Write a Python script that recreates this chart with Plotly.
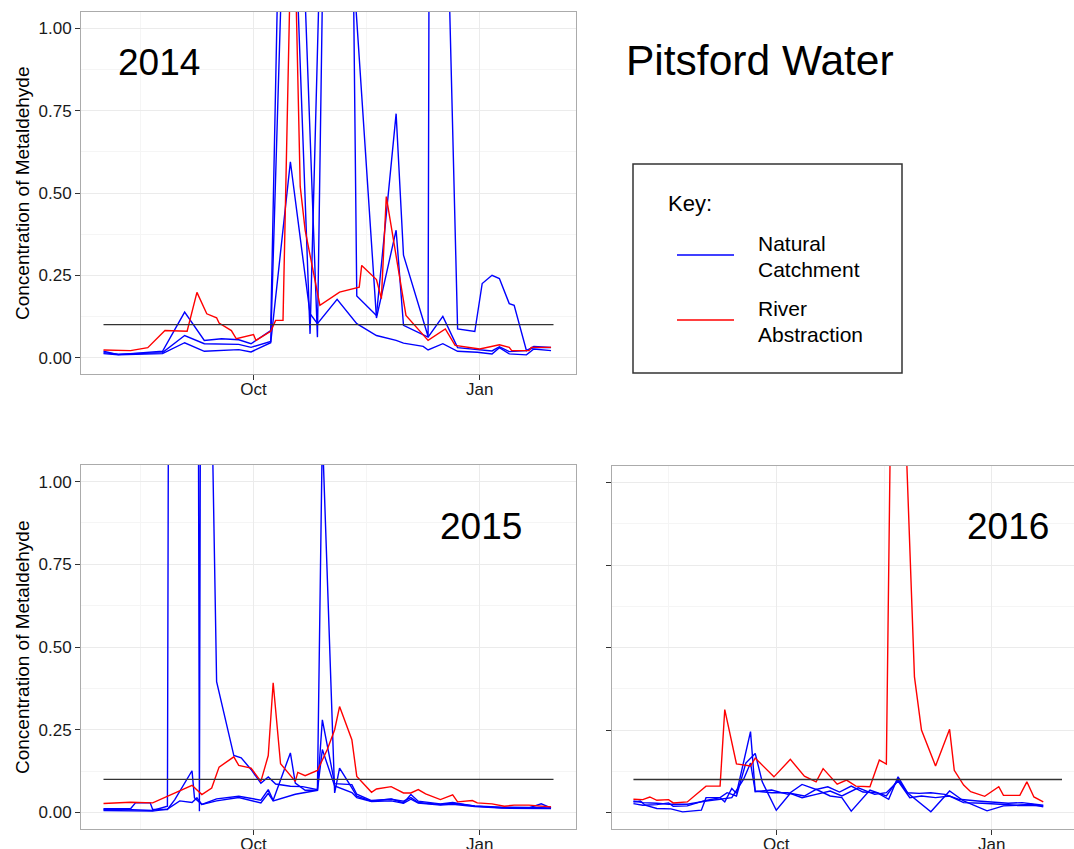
import pandas as pd
import plotly.graph_objects as go

W, H = 1074, 849
FONT = "Liberation Sans, Arial, sans-serif"
BLUE, RED = "#0000FF", "#FF0000"

# ---------------- 2014 ----------------
river_2014_dates = ["2014-08-01", "2014-08-12", "2014-08-19", "2014-08-26", "2014-09-04", "2014-09-08",
                    "2014-09-12", "2014-09-16", "2014-09-17", "2014-09-22", "2014-09-24", "2014-10-01",
                    "2014-10-02", "2014-10-08", "2014-10-10", "2014-10-13", "2014-10-17", "2014-10-20",
                    "2014-10-22", "2014-10-28", "2014-11-05", "2014-11-13", "2014-11-14", "2014-11-20",
                    "2014-11-22", "2014-11-24", "2014-12-02", "2014-12-11", "2014-12-18", "2014-12-22",
                    "2015-01-01", "2015-01-09", "2015-01-13", "2015-01-14", "2015-01-21", "2015-01-22",
                    "2015-01-30"]
river_2014 = [0.023, 0.021, 0.030, 0.082, 0.080, 0.198, 0.133, 0.121, 0.105, 0.082, 0.057, 0.070,
              0.052, 0.080, 0.113, 0.113, 1.54, 0.52, 0.387, 0.159, 0.199, 0.214, 0.280, 0.237,
              0.179, 0.489, 0.128, 0.052, 0.087, 0.037, 0.026, 0.039, 0.031, 0.021, 0.021, 0.031,
              0.031]

nc1_2014_dates = ["2014-08-01", "2014-08-07", "2014-08-25", "2014-09-03", "2014-09-11", "2014-09-25",
                  "2014-09-30", "2014-10-08", "2014-10-16", "2014-10-24", "2014-10-27", "2014-11-04",
                  "2014-11-12", "2014-11-20", "2014-11-28", "2014-12-01", "2014-12-09", "2014-12-11",
                  "2014-12-17", "2014-12-23", "2014-12-31", "2015-01-06", "2015-01-09", "2015-01-13",
                  "2015-01-20", "2015-01-23", "2015-01-30"]
nc1_2014 = [0.012, 0.008, 0.012, 0.045, 0.019, 0.024, 0.017, 0.045, 0.595, 0.133, 0.103, 0.177,
            0.103, 0.067, 0.052, 0.044, 0.034, 0.023, 0.042, 0.019, 0.016, 0.011, 0.030, 0.011,
            0.008, 0.026, 0.021]

nc2_2014_dates = ["2014-08-01", "2014-08-07", "2014-08-25", "2014-09-03", "2014-09-11", "2014-09-25",
                  "2014-09-30", "2014-10-08", "2014-10-13", "2014-10-20", "2014-10-27", "2014-10-30",
                  "2014-11-10", "2014-11-20", "2014-11-28", "2014-12-01", "2014-12-11", "2014-12-17",
                  "2014-12-23", "2014-12-31", "2015-01-06", "2015-01-09", "2015-01-13", "2015-01-20",
                  "2015-01-23", "2015-01-30"]
nc2_2014 = [0.015, 0.010, 0.015, 0.067, 0.042, 0.040, 0.031, 0.049, 1.30, 1.50, 0.062, 1.60,
            1.25, 0.120, 0.387, 0.098, 0.062, 0.125, 0.030, 0.025, 0.020, 0.033, 0.018, 0.021,
            0.030, 0.030]

nc3_2014_dates = ["2014-08-01", "2014-08-07", "2014-08-12", "2014-08-25", "2014-09-03", "2014-09-11",
                  "2014-09-18", "2014-09-25", "2014-09-30", "2014-10-08", "2014-10-11", "2014-10-18",
                  "2014-10-24", "2014-10-29", "2014-11-10", "2014-11-12", "2014-11-20", "2014-11-28",
                  "2014-12-01", "2014-12-09", "2014-12-11", "2014-12-12", "2014-12-18", "2014-12-23",
                  "2014-12-30", "2015-01-02", "2015-01-06", "2015-01-09", "2015-01-13", "2015-01-15",
                  "2015-01-20", "2015-01-23", "2015-01-30"]
nc3_2014 = [0.019, 0.009, 0.012, 0.019, 0.138, 0.052, 0.057, 0.054, 0.042, 0.082, 1.20, 1.30,
            0.072, 1.50, 1.60, 0.187, 0.128, 0.741, 0.311, 0.113, 0.064, 3.00, 1.60, 0.087,
            0.079, 0.225, 0.250, 0.240, 0.164, 0.159, 0.021, 0.034, 0.031]

# ---------------- 2015 ----------------
river_2015_dates = ["2015-08-01", "2015-08-12", "2015-08-21", "2015-09-06", "2015-09-10", "2015-09-14",
                    "2015-09-17", "2015-09-23", "2015-09-25", "2015-09-30", "2015-10-04", "2015-10-07",
                    "2015-10-09", "2015-10-12", "2015-10-18", "2015-10-19", "2015-10-22", "2015-10-27",
                    "2015-10-31", "2015-11-03", "2015-11-05", "2015-11-10", "2015-11-12", "2015-11-18",
                    "2015-11-20", "2015-11-26", "2015-12-01", "2015-12-04", "2015-12-07", "2015-12-10",
                    "2015-12-16", "2015-12-21", "2015-12-23", "2015-12-29", "2015-12-31", "2016-01-06",
                    "2016-01-11", "2016-01-15", "2016-01-21", "2016-01-30"]
river_2015 = [0.027, 0.031, 0.029, 0.082, 0.054, 0.074, 0.137, 0.168, 0.142, 0.134, 0.094, 0.172,
              0.392, 0.147, 0.094, 0.121, 0.111, 0.127, 0.190, 0.250, 0.320, 0.220, 0.109, 0.061,
              0.071, 0.078, 0.059, 0.059, 0.069, 0.056, 0.039, 0.053, 0.032, 0.036, 0.029, 0.026,
              0.019, 0.022, 0.022, 0.017]

nc1_2015_dates = ["2015-08-01", "2015-08-10", "2015-08-21", "2015-08-27", "2015-08-28", "2015-09-08",
                  "2015-09-09", "2015-09-10", "2015-09-14", "2015-09-16", "2015-09-23", "2015-09-26",
                  "2015-09-30", "2015-10-04", "2015-10-07", "2015-10-10", "2015-10-16", "2015-10-21",
                  "2015-10-27", "2015-10-29", "2015-11-03", "2015-11-05", "2015-11-10", "2015-11-12",
                  "2015-11-18", "2015-11-26", "2015-12-01", "2015-12-04", "2015-12-07", "2015-12-16",
                  "2015-12-21", "2015-12-30", "2016-01-10", "2016-01-21", "2016-01-26", "2016-01-30"]
nc1_2015 = [0.009, 0.009, 0.006, 0.019, 3.00, 3.00, 0.004, 3.00, 1.26, 0.395, 0.172, 0.165,
            0.130, 0.088, 0.107, 0.086, 0.079, 0.078, 0.069, 1.15, 0.059, 0.134, 0.074, 0.049,
            0.034, 0.041, 0.029, 0.054, 0.034, 0.026, 0.030, 0.019, 0.014, 0.014, 0.026, 0.014]

nc2_2015_dates = ["2015-08-01", "2015-08-12", "2015-08-14", "2015-08-20", "2015-08-21", "2015-08-27",
                  "2015-08-30", "2015-09-06", "2015-09-07", "2015-09-10", "2015-09-16", "2015-09-25",
                  "2015-10-04", "2015-10-07", "2015-10-09", "2015-10-16", "2015-10-18", "2015-10-22",
                  "2015-10-27", "2015-10-29", "2015-11-03", "2015-11-10", "2015-11-12", "2015-11-18",
                  "2015-11-26", "2015-12-01", "2015-12-04", "2015-12-07", "2015-12-16", "2015-12-21",
                  "2015-12-30", "2016-01-10", "2016-01-21", "2016-01-30"]
nc2_2015 = [0.011, 0.011, 0.029, 0.029, 0.009, 0.009, 0.039, 0.126, 0.044, 0.024, 0.041, 0.049,
            0.037, 0.069, 0.037, 0.180, 0.089, 0.067, 0.067, 0.280, 0.087, 0.084, 0.055, 0.036,
            0.040, 0.034, 0.045, 0.030, 0.024, 0.028, 0.020, 0.016, 0.015, 0.016]

nc3_2015_dates = ["2015-08-01", "2015-08-12", "2015-08-21", "2015-08-27", "2015-09-01", "2015-09-06",
                  "2015-09-08", "2015-09-10", "2015-09-16", "2015-09-25", "2015-10-04", "2015-10-07",
                  "2015-10-09", "2015-10-18", "2015-10-22", "2015-10-27", "2015-10-29", "2015-11-03",
                  "2015-11-10", "2015-11-12", "2015-11-18", "2015-11-26", "2015-12-01", "2015-12-04",
                  "2015-12-07", "2015-12-16", "2015-12-21", "2015-12-30", "2016-01-10", "2016-01-21",
                  "2016-01-30"]
nc3_2015 = [0.006, 0.006, 0.004, 0.010, 0.035, 0.030, 0.044, 0.024, 0.035, 0.045, 0.029, 0.058,
            0.035, 0.055, 0.060, 0.067, 0.190, 0.080, 0.060, 0.045, 0.033, 0.035, 0.028, 0.040,
            0.028, 0.022, 0.025, 0.018, 0.013, 0.013, 0.012]

# ---------------- 2016 ----------------
river_2016_dates = ["2016-08-01", "2016-08-05", "2016-08-08", "2016-08-11", "2016-08-16", "2016-08-18",
                    "2016-08-24", "2016-09-01", "2016-09-07", "2016-09-09", "2016-09-14", "2016-09-20",
                    "2016-09-22", "2016-09-29", "2016-09-30", "2016-10-07", "2016-10-13", "2016-10-18",
                    "2016-10-21", "2016-10-27", "2016-10-31", "2016-11-04", "2016-11-10", "2016-11-14",
                    "2016-11-17", "2016-11-20", "2016-11-22", "2016-11-24", "2016-11-29", "2016-12-02",
                    "2016-12-08", "2016-12-14", "2016-12-16", "2016-12-20", "2016-12-23", "2016-12-29",
                    "2017-01-04", "2017-01-06", "2017-01-13", "2017-01-16", "2017-01-19", "2017-01-23"]
river_2016 = [0.040, 0.039, 0.047, 0.037, 0.039, 0.029, 0.032, 0.080, 0.080, 0.312, 0.147, 0.141,
              0.165, 0.113, 0.108, 0.161, 0.110, 0.093, 0.133, 0.086, 0.098, 0.080, 0.078, 0.159,
              0.147, 1.90, 2.40, 1.40, 0.411, 0.250, 0.141, 0.252, 0.128, 0.083, 0.063, 0.049,
              0.078, 0.052, 0.052, 0.093, 0.047, 0.032]

nc1_2016_dates = ["2016-08-01", "2016-08-04", "2016-08-06", "2016-08-11", "2016-08-17", "2016-08-22",
                  "2016-08-30", "2016-09-01", "2016-09-07", "2016-09-09", "2016-09-12", "2016-09-14",
                  "2016-09-20", "2016-09-22", "2016-09-29", "2016-10-06", "2016-10-12", "2016-10-18",
                  "2016-10-23", "2016-10-28", "2016-11-02", "2016-11-07", "2016-11-13", "2016-11-18",
                  "2016-11-22", "2016-11-26", "2016-12-01", "2016-12-06", "2016-12-12", "2016-12-18",
                  "2016-12-26", "2017-01-02", "2017-01-08", "2017-01-14", "2017-01-23"]
nc1_2016 = [0.032, 0.035, 0.022, 0.012, 0.011, 0.002, 0.007, 0.045, 0.045, 0.032, 0.073, 0.058,
            0.245, 0.063, 0.068, 0.055, 0.085, 0.070, 0.078, 0.062, 0.080, 0.062, 0.060, 0.040,
            0.108, 0.060, 0.058, 0.060, 0.055, 0.040, 0.035, 0.032, 0.028, 0.030, 0.022]

nc2_2016_dates = ["2016-08-01", "2016-08-05", "2016-08-11", "2016-08-16", "2016-08-18", "2016-08-24",
                  "2016-08-31", "2016-09-07", "2016-09-10", "2016-09-14", "2016-09-18", "2016-09-22",
                  "2016-09-25", "2016-10-01", "2016-10-07", "2016-10-13", "2016-10-18", "2016-10-24",
                  "2016-10-29", "2016-11-02", "2016-11-10", "2016-11-17", "2016-11-22", "2016-11-26",
                  "2016-12-06", "2016-12-14", "2016-12-20", "2016-12-30", "2017-01-06", "2017-01-14",
                  "2017-01-23"]
nc2_2016 = [0.027, 0.022, 0.024, 0.029, 0.019, 0.020, 0.035, 0.045, 0.060, 0.050, 0.150, 0.179,
            0.093, 0.007, 0.058, 0.050, 0.070, 0.050, 0.045, 0.004, 0.068, 0.050, 0.100, 0.060,
            0.002, 0.065, 0.035, 0.005, 0.020, 0.022, 0.020]

nc3_2016_dates = ["2016-08-01", "2016-08-05", "2016-08-11", "2016-08-16", "2016-08-24", "2016-09-01",
                  "2016-09-07", "2016-09-12", "2016-09-17", "2016-09-20", "2016-09-22", "2016-09-29",
                  "2016-10-06", "2016-10-12", "2016-10-18", "2016-10-24", "2016-10-29", "2016-11-05",
                  "2016-11-12", "2016-11-17", "2016-11-22", "2016-11-27", "2016-12-02", "2016-12-08",
                  "2016-12-14", "2016-12-20", "2016-12-28", "2017-01-04", "2017-01-12", "2017-01-18",
                  "2017-01-23"]
nc3_2016 = [0.035, 0.030, 0.028, 0.025, 0.025, 0.035, 0.040, 0.045, 0.100, 0.150, 0.065, 0.060,
            0.060, 0.045, 0.055, 0.065, 0.050, 0.075, 0.055, 0.060, 0.095, 0.045, 0.050, 0.045,
            0.050, 0.030, 0.028, 0.026, 0.022, 0.025, 0.017]

# guideline level drawn across each season
limit_value = 0.1
season_start = {"2014": "2014-08-01", "2015": "2015-08-01", "2016": "2016-08-01"}
season_end = {"2014": "2015-01-31", "2015": "2016-01-31", "2016": "2017-01-31"}

y_ticks = [0.0, 0.25, 0.5, 0.75, 1.0]
y_minor = [0.125, 0.375, 0.625, 0.875]
y_range = [-0.05, 1.05]

panels = {
    "2014": dict(river=(river_2014_dates, river_2014),
                 nc=[(nc1_2014_dates, nc1_2014), (nc2_2014_dates, nc2_2014), (nc3_2014_dates, nc3_2014)]),
    "2015": dict(river=(river_2015_dates, river_2015),
                 nc=[(nc1_2015_dates, nc1_2015), (nc2_2015_dates, nc2_2015), (nc3_2015_dates, nc3_2015)]),
    "2016": dict(river=(river_2016_dates, river_2016),
                 nc=[(nc1_2016_dates, nc1_2016), (nc2_2016_dates, nc2_2016), (nc3_2016_dates, nc3_2016)]),
}

# panel boxes in pixels: (left, top, right, bottom)
boxes = {"2014": (81, 12, 576, 374), "2015": (81, 465, 576, 829), "2016": (612, 466, 1074, 829)}
# share of the full date span that is visible in each panel (last panel runs off the page)
visible = {"2014": 1.0, "2015": 1.0, "2016": 0.98}


def px(x):
    return x / W


def py(y):
    return 1 - y / H


fig = go.Figure()
axis_ids = {"2014": "", "2015": "2", "2016": "3"}

for year, d in panels.items():
    sid = axis_ids[year]
    xa, ya = "x" + sid, "y" + sid
    for dates, vals in d["nc"]:
        fig.add_trace(go.Scatter(x=pd.to_datetime(dates), y=vals, mode="lines",
                                 line=dict(color=BLUE, width=1.4), xaxis=xa, yaxis=ya,
                                 showlegend=False, hoverinfo="skip"))
    rd, rv = d["river"]
    fig.add_trace(go.Scatter(x=pd.to_datetime(rd), y=rv, mode="lines",
                             line=dict(color=RED, width=1.4), xaxis=xa, yaxis=ya,
                             showlegend=False, hoverinfo="skip"))
    fig.add_trace(go.Scatter(x=pd.to_datetime([season_start[year], season_end[year]]),
                             y=[limit_value, limit_value], mode="lines",
                             line=dict(color="#333333", width=1.4), xaxis=xa, yaxis=ya,
                             showlegend=False, hoverinfo="skip"))

    # ggplot-style 5% padding around the season
    t0, t1 = pd.Timestamp(season_start[year]), pd.Timestamp(season_end[year])
    pad = (t1 - t0) * 0.05
    lo = t0 - pad
    hi = lo + (t1 + pad - lo) * visible[year]
    y0 = int(year)
    oct1, jan1 = pd.Timestamp(f"{y0}-10-01"), pd.Timestamp(f"{y0 + 1}-01-01")
    minor_x = [pd.Timestamp(f"{y0}-08-16"), pd.Timestamp(f"{y0}-11-16"), pd.Timestamp(f"{y0 + 1}-02-15")]

    L, T, R, B = boxes[year]
    xkey = "xaxis" + sid
    ykey = "yaxis" + sid
    fig.layout[xkey] = dict(
        domain=[px(L), px(R)], anchor=ya, type="date", range=[lo, hi],
        tickmode="array", tickvals=[oct1, jan1], ticktext=["Oct", "Jan"],
        ticks="outside", ticklen=5, tickwidth=1, tickcolor="#333333",
        ticklabelstandoff=-5,
        tickfont=dict(family=FONT, size=17, color="#1a1a1a"),
        showgrid=True, gridcolor="#EBEBEB", gridwidth=1,
        minor=dict(tickmode="array", tickvals=minor_x, showgrid=True,
                   gridcolor="#F5F5F5", gridwidth=0.8, ticks=""),
        showline=True, linecolor="#ABABAB", linewidth=1, mirror=True,
        zeroline=False, fixedrange=True, automargin=False,
    )
    fig.layout[ykey] = dict(
        domain=[py(B), py(T)], anchor=xa, range=y_range,
        tickmode="array", tickvals=y_ticks, ticktext=[f"{v:.2f}" for v in y_ticks],
        showticklabels=(year != "2016"),
        ticks="outside", ticklen=5, tickwidth=1, tickcolor="#333333",
        tickfont=dict(family=FONT, size=17, color="#1a1a1a"),
        showgrid=True, gridcolor="#EBEBEB", gridwidth=1,
        minor=dict(tickmode="array", tickvals=y_minor, showgrid=True,
                   gridcolor="#F5F5F5", gridwidth=0.8, ticks=""),
        showline=True, linecolor="#ABABAB", linewidth=1, mirror=(year != "2016"),
        zeroline=False, fixedrange=True, automargin=False,
    )

annotations = []
# y-axis titles for the two left panels
for year in ("2014", "2015"):
    L, T, R, B = boxes[year]
    annotations.append(dict(text="Concentration of Metaldehyde", x=px(22), y=py((T + B) / 2),
                            xref="paper", yref="paper", textangle=-90, showarrow=False,
                            xanchor="center", yanchor="middle",
                            font=dict(family=FONT, size=19, color="#000000")))

# season labels inside the panels
season_labels = [("2014", 159, 63), ("2015", 481, 526), ("2016", 1008, 526)]
for text, cx, cy in season_labels:
    annotations.append(dict(text=text, x=px(cx), y=py(cy), xref="paper", yref="paper",
                            showarrow=False, xanchor="center", yanchor="middle",
                            font=dict(family=FONT, size=37, color="#000000")))

annotations.append(dict(text="Pitsford Water", x=px(760), y=py(60), xref="paper", yref="paper",
                        showarrow=False, xanchor="center", yanchor="middle",
                        font=dict(family=FONT, size=42.5, color="#000000")))

# key box
annotations.append(dict(text="Key:", x=px(666), y=py(203), xref="paper", yref="paper",
                        showarrow=False, xanchor="left", yanchor="middle",
                        font=dict(family=FONT, size=22, color="#000000")))
for text, cy in [("Natural", 243), ("Catchment", 269), ("River", 309), ("Abstraction", 335)]:
    annotations.append(dict(text=text, x=px(756), y=py(cy), xref="paper", yref="paper",
                            showarrow=False, xanchor="left", yanchor="middle",
                            font=dict(family=FONT, size=21, color="#000000")))

shapes = [
    dict(type="rect", xref="paper", yref="paper", x0=px(633), x1=px(902), y0=py(373), y1=py(164),
         line=dict(color="#333333", width=1.5), fillcolor="rgba(0,0,0,0)"),
    dict(type="line", xref="paper", yref="paper", x0=px(677), x1=px(734), y0=py(255), y1=py(255),
         line=dict(color=BLUE, width=1.6)),
    dict(type="line", xref="paper", yref="paper", x0=px(677), x1=px(734), y0=py(320), y1=py(320),
         line=dict(color=RED, width=1.6)),
]

fig.update_layout(width=W, height=H, margin=dict(l=0, r=0, t=0, b=0),
                  paper_bgcolor="white", plot_bgcolor="white",
                  annotations=annotations, shapes=shapes, showlegend=False)

fig.write_html("out.html")
